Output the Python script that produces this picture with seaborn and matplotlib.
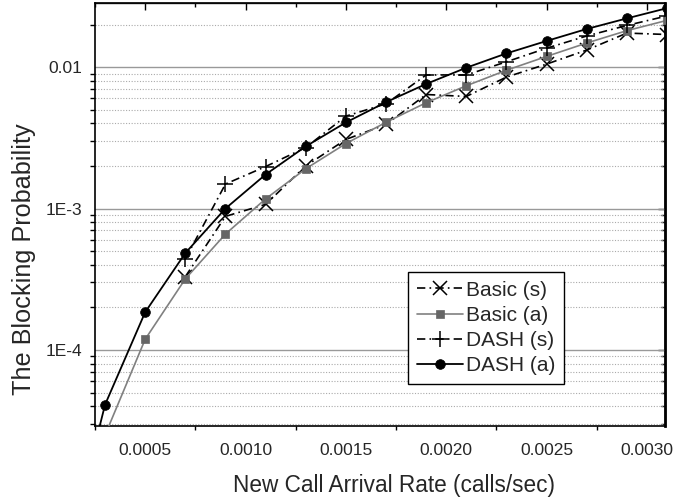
import numpy as np
import pandas as pd
import matplotlib
matplotlib.use("Agg")
import matplotlib.pyplot as plt
import seaborn as sns
from matplotlib.ticker import LogLocator, FuncFormatter, MultipleLocator, NullFormatter, FixedLocator

# ---------------- data ----------------
x_basic_s = [0.0007, 0.0009, 0.0011, 0.0013, 0.0015, 0.0017, 0.0019, 0.0021,
             0.0023, 0.0025, 0.0027, 0.0029, 0.0031]
y_basic_s = [3.3e-4, 8.8e-4, 1.07e-3, 2.0e-3, 3.08e-3, 3.93e-3, 6.4e-3, 6.2e-3,
             8.5e-3, 1.05e-2, 1.32e-2, 1.74e-2, 1.70e-2]

x_basic_a = [0.0003, 0.0005, 0.0007, 0.0009, 0.0011, 0.0013, 0.0015, 0.0017,
             0.0019, 0.0021, 0.0023, 0.0025, 0.0027, 0.0029, 0.0031]
y_basic_a = [2.5e-5, 1.19e-4, 3.18e-4, 6.6e-4, 1.17e-3, 1.91e-3, 2.88e-3, 4.07e-3,
             5.6e-3, 7.38e-3, 9.5e-3, 1.19e-2, 1.48e-2, 1.81e-2, 2.14e-2]

x_dash_s = [0.0007, 0.0009, 0.0011, 0.0013, 0.0015, 0.0017, 0.0019, 0.0021,
            0.0023, 0.0025, 0.0027, 0.0029, 0.0031]
y_dash_s = [4.4e-4, 1.49e-3, 1.98e-3, 2.7e-3, 4.5e-3, 5.5e-3, 8.8e-3, 8.8e-3,
            1.09e-2, 1.36e-2, 1.66e-2, 1.97e-2, 2.3e-2]

x_dash_a = [0.0001, 0.0003, 0.0005, 0.0007, 0.0009, 0.0011, 0.0013, 0.0015,
            0.0017, 0.0019, 0.0021, 0.0023, 0.0025, 0.0027, 0.0029, 0.0031]
y_dash_a = [3.0e-6, 4.1e-5, 1.85e-4, 4.84e-4, 1.0e-3, 1.74e-3, 2.75e-3, 4.06e-3,
            5.65e-3, 7.6e-3, 9.9e-3, 1.25e-2, 1.53e-2, 1.86e-2, 2.21e-2, 2.61e-2]

series_labels = ["Basic (s)", "Basic (a)", "DASH (s)", "DASH (a)"]
x_ticks = [0.0005, 0.0010, 0.0015, 0.0020, 0.0025, 0.0030]
x_label = "New Call Arrival Rate (calls/sec)"
y_label = "The Blocking Probability"

# ---------------- style ----------------
sns.set_style("white")
plt.rcParams['font.family'] = ['Liberation Sans', 'DejaVu Sans']

fig = plt.figure(figsize=(6.92, 4.97), dpi=100)
ax = fig.add_axes([0.1373, 0.1429, 0.8237, 0.8511])

dashdot = (0, (5, 2.5, 1, 2.5))

sns.lineplot(x=x_basic_s, y=y_basic_s, ax=ax, sort=False, estimator=None,
             color="black", linestyle=dashdot, linewidth=1.2,
             marker="x", markersize=10, markeredgewidth=1.1,
             markeredgecolor="black", label=series_labels[0], zorder=3)
sns.lineplot(x=x_basic_a, y=y_basic_a, ax=ax, sort=False, estimator=None,
             color="#808080", linestyle="-", linewidth=1.2,
             marker="s", markersize=6, markeredgewidth=0.5,
             markeredgecolor="#666666", markerfacecolor="#666666",
             label=series_labels[1], zorder=3)
sns.lineplot(x=x_dash_s, y=y_dash_s, ax=ax, sort=False, estimator=None,
             color="black", linestyle=dashdot, linewidth=1.2,
             marker="+", markersize=11, markeredgewidth=1.1,
             markeredgecolor="black", label=series_labels[2], zorder=3)
sns.lineplot(x=x_dash_a, y=y_dash_a, ax=ax, sort=False, estimator=None,
             color="black", linestyle="-", linewidth=1.3,
             marker="o", markersize=7, markeredgewidth=0.5,
             markeredgecolor="black", markerfacecolor="black",
             label=series_labels[3], zorder=4)

ax.set_yscale("log")
ax.set_xlim(0.00025, 0.00309)
ax.set_ylim(2.9e-5, 0.0284)

# y ticks
ax.yaxis.set_major_locator(LogLocator(base=10, numticks=20))
ax.yaxis.set_minor_locator(LogLocator(base=10, subs=np.arange(2, 10), numticks=50))


def yfmt(v, pos):
    e = int(round(np.log10(v)))
    if e >= -2:
        return f"{v:g}"
    return f"1E{e}"


ax.yaxis.set_major_formatter(FuncFormatter(yfmt))
ax.yaxis.set_minor_formatter(NullFormatter())

# x ticks
ax.xaxis.set_major_locator(FixedLocator(x_ticks))
ax.xaxis.set_minor_locator(MultipleLocator(0.00025))
ax.xaxis.set_major_formatter(FuncFormatter(lambda v, p: f"{v:.4f}"))

# grid
ax.set_axisbelow(True)
ax.yaxis.grid(True, which="major", color="#999999", linewidth=1.0, linestyle="-")
ax.yaxis.grid(True, which="minor", color="#aaaaaa", linewidth=0.8, linestyle=(0, (1, 1.5)))
ax.xaxis.grid(False)

ax.tick_params(axis="both", which="major", direction="out", labelsize=12.5,
               color="black", width=1.0, top=False, right=False)
ax.tick_params(axis="x", which="major", length=5, pad=7)
ax.tick_params(axis="x", which="minor", direction="out", length=3, width=1.0,
               bottom=True, top=False, color="black")
ax.tick_params(axis="y", which="major", length=6.5, pad=3)
ax.tick_params(axis="y", which="minor", direction="out", length=3.5, width=1.0,
               left=True, right=False, color="black")

for s in ax.spines.values():
    s.set_color("black")
    s.set_linewidth(1.2)
ax.spines["right"].set_linewidth(1.8)

# mirrored ticks (inward) on top and right
secx = ax.secondary_xaxis("top")
secx.xaxis.set_major_locator(FixedLocator(x_ticks))
secx.xaxis.set_minor_locator(MultipleLocator(0.00025))
secx.tick_params(axis="x", which="major", direction="in", length=5, width=1.0,
                 labeltop=False, color="black")
secx.tick_params(axis="x", which="minor", direction="in", length=3, width=1.0, color="black")
secx.spines["top"].set_linewidth(1.0)

secy = ax.secondary_yaxis("right")
secy.yaxis.set_major_locator(LogLocator(base=10, numticks=20))
secy.yaxis.set_minor_locator(LogLocator(base=10, subs=np.arange(2, 10), numticks=50))
secy.yaxis.set_minor_formatter(NullFormatter())
secy.tick_params(axis="y", which="major", direction="in", length=5, width=1.0,
                 labelright=False, color="black")
secy.tick_params(axis="y", which="minor", direction="in", length=3, width=1.0, color="black")
secy.spines["right"].set_linewidth(1.8)

ax.set_xlabel(x_label, fontsize=16.3)
ax.set_ylabel(y_label, fontsize=18.2)
ax.xaxis.set_label_coords(0.524, -0.113)
ax.yaxis.set_label_coords(-0.104, 0.395)

leg = ax.legend(loc="lower left", bbox_to_anchor=(0.549, 0.099), borderaxespad=0,
                fontsize=15, handlelength=2.2, handletextpad=0.15,
                labelspacing=0.3, borderpad=0.42, frameon=True, fancybox=False,
                framealpha=1, edgecolor="black")
leg.get_frame().set_linewidth(1.0)

fig.savefig("out.png", dpi=100)
